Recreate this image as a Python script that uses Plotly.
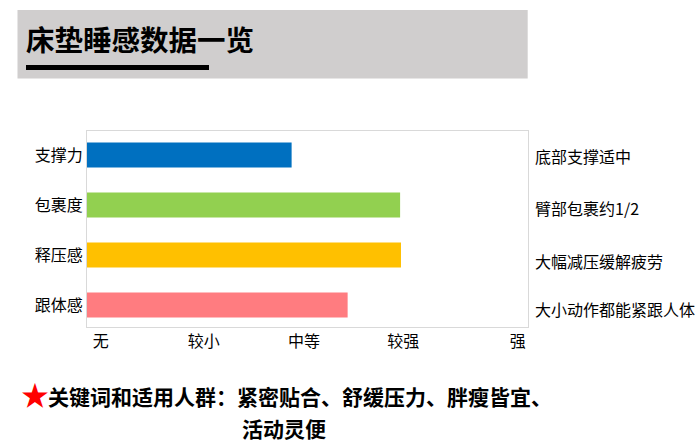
import plotly.graph_objects as go

# data
metrics = ["支撑力", "包裹度", "释压感", "跟体感"]
scores = [46.4, 71.0, 71.2, 59.1]          # bar length on a 0-100 scale
notes = ["底部支撑适中", "臂部包裹约1/2", "大幅减压缓解疲劳", "大小动作都能紧跟人体"]
bar_colors = ["#0070C0", "#92D050", "#FFC000", "#FF7C80"]
level_labels = ["无", "较小", "中等", "较强", "强"]
level_positions = [3.1, 26.5, 49.2, 71.7, 97.7]

title = "床垫睡感数据一览"
keyword_line1 = "关键词和适用人群：紧密贴合、舒缓压力、胖瘦皆宜、"
keyword_line2 = "活动灵便"

W, H = 700, 445
L, R, T, B = 87, 528, 131, 327   # plot area in pixels
FONT = "Noto Sans CJK SC"


def px_x(x):
    return (x - L) / (R - L)


def px_y(y):
    return (B - y) / (B - T)


fig = go.Figure()
fig.add_trace(go.Bar(
    x=scores,
    y=metrics,
    orientation="h",
    marker=dict(color=bar_colors, line=dict(width=0)),
    hoverinfo="x+y",
))

# header box, underline
fig.add_shape(type="rect", xref="paper", yref="paper",
              x0=px_x(17.5), x1=px_x(527.7), y0=px_y(78.5), y1=px_y(10),
              fillcolor="#D0CECE", line=dict(width=0), layer="below")
fig.add_shape(type="rect", xref="paper", yref="paper",
              x0=px_x(26), x1=px_x(209), y0=px_y(70), y1=px_y(65),
              fillcolor="#000000", line=dict(width=0))

annotations = [
    dict(text="<b>" + title + "</b>", x=px_x(24), y=px_y(38.5),
         xanchor="left", yanchor="middle",
         font=dict(size=28.5, color="#000000", family=FONT)),
    dict(text="★", x=px_x(35), y=px_y(394), xanchor="center", yanchor="middle",
         font=dict(size=28, color="#FF0000", family=FONT)),
    dict(text="<b>" + keyword_line1 + "</b>", x=px_x(47), y=px_y(412),
         xanchor="left", yanchor="bottom", borderpad=0,
         font=dict(size=21, color="#000000", family=FONT)),
    dict(text="<b>" + keyword_line2 + "</b>", x=px_x(241), y=px_y(412),
         xanchor="left", yanchor="top", borderpad=0,
         font=dict(size=21, color="#000000", family=FONT)),
]
# side notes, placed at the heights they sit in the reference
note_rows = [156, 208, 261, 309]
for n, row in zip(notes, note_rows):
    annotations.append(dict(text=n, x=1, y=px_y(row),
                            xanchor="left", yanchor="middle", xshift=5,
                            font=dict(size=16, color="#000000", family=FONT)))
for a in annotations:
    a["xref"] = "paper"
    a["yref"] = "paper"
    a["showarrow"] = False

fig.update_layout(
    width=W, height=H,
    margin=dict(l=L, r=W - R, t=T, b=H - B),
    paper_bgcolor="#FFFFFF",
    plot_bgcolor="#FFFFFF",
    showlegend=False,
    bargap=0.5,
    font=dict(family=FONT, size=16, color="#000000"),
    annotations=annotations,
)
fig.update_xaxes(
    range=[0, 100],
    tickvals=level_positions,
    ticktext=level_labels,
    showgrid=False, zeroline=False,
    showline=True, linecolor="#D9D9D9", linewidth=1, mirror=True,
    ticks="", tickfont=dict(size=16),
)
fig.update_yaxes(
    type="category",
    categoryorder="array", categoryarray=metrics,
    range=[3.44, -0.48],
    showgrid=False, zeroline=False,
    showline=True, linecolor="#D9D9D9", linewidth=1, mirror=True,
    ticks="", tickfont=dict(size=16),
)

# drop the browser's default 8px body margin so the figure fills the window
fig.write_html("out.html", config={"displayModeBar": False},
               post_script="document.body.style.margin = '0';")
